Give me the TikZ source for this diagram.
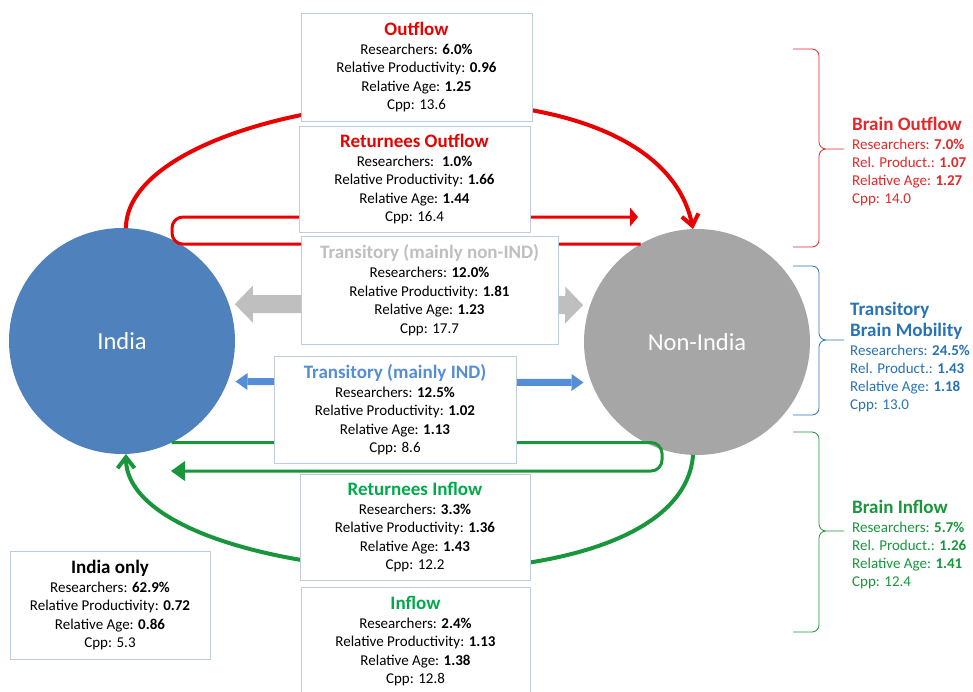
\documentclass[tikz,border=0pt]{standalone}
\usepackage{fontspec}
\setmainfont{Carlito}
\usetikzlibrary{arrows.meta}

\definecolor{indiablue}{RGB}{79,129,189}
\definecolor{nongray}{RGB}{166,166,166}
\definecolor{transgray}{RGB}{191,191,191}
\definecolor{transblue}{RGB}{85,142,213}
\definecolor{flowred}{RGB}{235,0,0}
\definecolor{sumred}{RGB}{228,40,40}
\definecolor{flowgreen}{RGB}{0,170,75}
\definecolor{linegreen}{RGB}{25,150,60}
\definecolor{mobblue}{RGB}{40,115,180}
\definecolor{boxline}{RGB}{190,205,222}

\newcommand{\ttl}{\fontsize{19}{20}\selectfont\bfseries}

\begin{document}
\begin{tikzpicture}[
        x=1pt, y=-1pt,
        country/.style={circle, minimum size=226pt, inner sep=0pt, outer sep=0pt,
            text=white, font=\fontsize{24.5}{28}\selectfont},
        statbox/.style={draw=boxline, fill=white, align=center, inner sep=0pt,
            font=\fontsize{15}{18.4}\selectfont},
        sumtext/.style={anchor=west, align=left, inner sep=0pt,
            font=\fontsize{15}{18}\selectfont},
        flowarc/.style={line width=4pt, -{Straight Barb[length=11pt,width=17pt]}},
        loopline/.style={line width=3pt, rounded corners=11pt},
        blockarrow/.style={line width=18pt, -{Triangle[length=18pt,width=37pt,line width=0pt]}},
        thinarrow/.style={line width=7pt, -{Triangle[length=12pt,width=17pt,line width=0pt]}},
        ]

        \clip (0,0) rectangle (973,691);

        % the two countries
        \node[country, fill=indiablue] (india) at (122,341) {India};
        \node[country, fill=nongray] (nonindia) at (697,342) {Non-India};

        \coordinate (rocorner) at (172,217);
        \coordinate (rotip) at (638,217);
        \coordinate (ricorner) at (662,471);
        \coordinate (ritip) at (171,471);

        % flows
        \draw[flowarc, flowred] (india.88) .. controls (127,92) and (652,32) .. (nonindia.92);
        \draw[loopline, flowred, -{Triangle[length=8pt,width=19pt,line width=0pt]}]
            (nonindia.120) -| (rocorner) -- (rotip);
        \draw[flowarc, linegreen] (nonindia.-92) .. controls (680,625) and (127,590) .. (india.-88);
        \draw[loopline, linegreen, -{Triangle[length=14pt,width=20pt,line width=0pt]}]
            (india.-64) -| (ricorner) -- (ritip);

        \draw[blockarrow, transgray, shorten >=6pt] (430,304) -- (india.19);
        \draw[blockarrow, transgray, shorten >=7pt] (430,304) -- (nonindia.161);
        \draw[thinarrow, transblue, shorten >=8pt] (395,382) -- (india.-21);
        \draw[thinarrow, transblue, shorten >=8pt] (395,382) -- (nonindia.201);

        % boxes
        \node[statbox, minimum width=231pt, minimum height=108pt] (outbox) at (416.5,67)
            {{\ttl\color{flowred}Outflow}\\[1pt] Researchers: \textbf{6.0\%}\\
             Relative Productivity: \textbf{0.96}\\ Relative Age: \textbf{1.25}\\ Cpp: 13.6};
        \node[statbox, minimum width=231pt, minimum height=106pt] (retoutbox) at (414.5,179)
            {{\ttl\color{flowred}Returnees Outflow}\\[1pt] Researchers: \ \textbf{1.0\%}\\
             Relative Productivity: \textbf{1.66}\\ Relative Age: \textbf{1.44}\\ Cpp: 16.4};
        \node[statbox, minimum width=257pt, minimum height=108pt] (tnonbox) at (429.5,290)
            {{\ttl\color{transgray}Transitory (mainly non-IND)}\\[1pt] Researchers: \textbf{12.0\%}\\
             Relative Productivity: \textbf{1.81}\\ Relative Age: \textbf{1.23}\\ Cpp: 17.7};
        \node[statbox, minimum width=242pt, minimum height=107pt] (tindbox) at (395,409.5)
            {{\ttl\color{transblue}Transitory (mainly IND)}\\[1pt] Researchers: \textbf{12.5\%}\\
             Relative Productivity: \textbf{1.02}\\ Relative Age: \textbf{1.13}\\ Cpp: 8.6};
        \node[statbox, minimum width=230pt, minimum height=106pt] (retinbox) at (415,527)
            {{\ttl\color{flowgreen}Returnees Inflow}\\[1pt] Researchers: \textbf{3.3\%}\\
             Relative Productivity: \textbf{1.36}\\ Relative Age: \textbf{1.43}\\ Cpp: 12.2};
        \node[statbox, minimum width=229pt, minimum height=108pt] (inbox) at (415.5,641)
            {{\ttl\color{flowgreen}Inflow}\\[1pt] Researchers: \textbf{2.4\%}\\
             Relative Productivity: \textbf{1.13}\\ Relative Age: \textbf{1.38}\\ Cpp: 12.8};
        \node[statbox, minimum width=200pt, minimum height=108pt] (indonly) at (110,605)
            {{\ttl India only}\\[1pt] Researchers: \textbf{62.9\%}\\
             Relative Productivity: \textbf{0.72}\\ Relative Age: \textbf{0.86}\\ Cpp: 5.3};

        % summaries on the right
        \node[sumtext, text=sumred] (brainout) at (852,162)
            {{\ttl Brain Outflow}\\[1pt] Researchers: \textbf{7.0\%}\\
             Rel. Product.: \textbf{1.07}\\ Relative Age: \textbf{1.27}\\ Cpp: 14.0};
        \node[sumtext, text=mobblue] (brainmob) at (850,357)
            {{\ttl Transitory}\\[3pt] {\ttl Brain Mobility}\\[1pt] Researchers: \textbf{24.5\%}\\
             Rel. Product.: \textbf{1.43}\\ Relative Age: \textbf{1.18}\\ Cpp: 13.0};
        \node[sumtext, text=linegreen] (brainin) at (852,545)
            {{\ttl Brain Inflow}\\[1pt] Researchers: \textbf{5.7\%}\\
             Rel. Product.: \textbf{1.26}\\ Relative Age: \textbf{1.41}\\ Cpp: 12.4};

        % braces
        \foreach \bt/\bb/\bm/\bc in {49/247/149/sumred, 266/415/340/mobblue, 432/632/531/linegreen}
            \draw[\bc, line width=0.8pt] (793,\bt) -- (812,\bt) to[out=0,in=90] (819,\bt+7)
                -- (819,\bm-7) to[out=-90,in=180] (826,\bm) -- (844,\bm)
                (826,\bm) to[out=180,in=90] (819,\bm+7) -- (819,\bb-7)
                to[out=-90,in=0] (812,\bb) -- (793,\bb);

    \end{tikzpicture}
\end{document}
